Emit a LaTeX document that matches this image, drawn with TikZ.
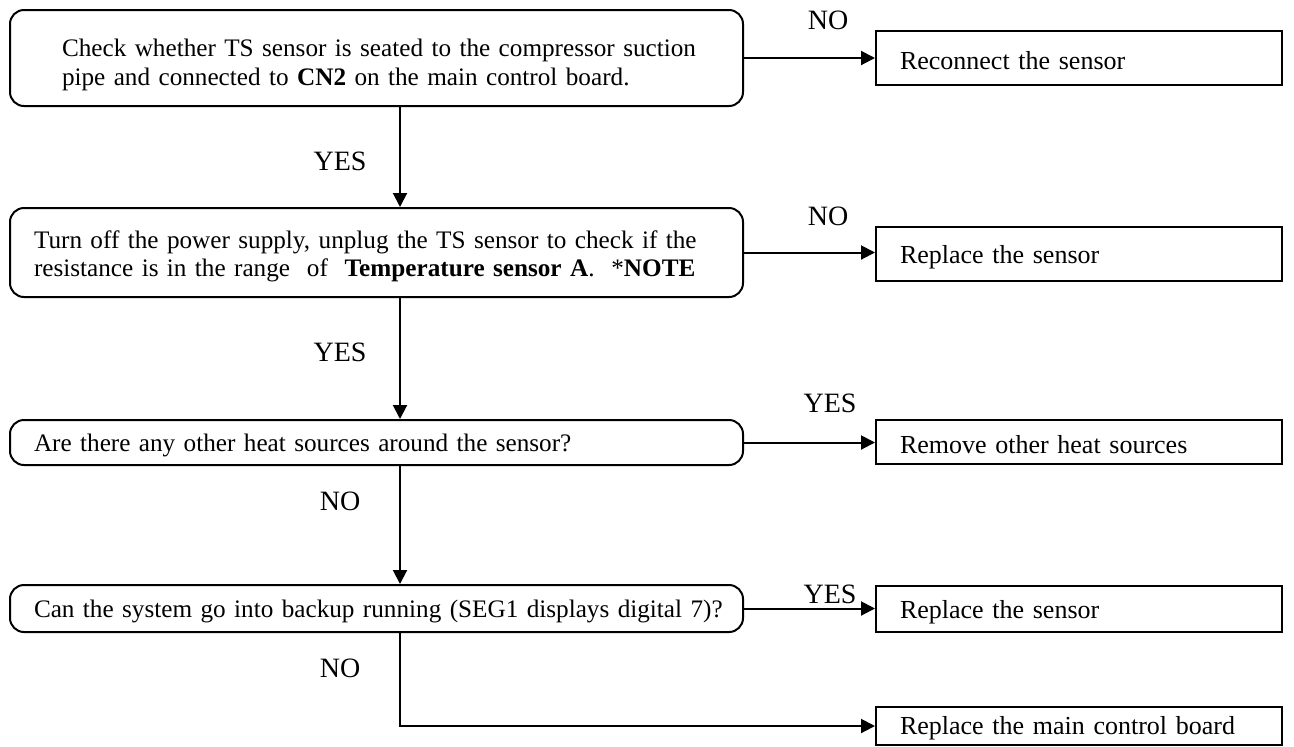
\documentclass[tikz,border=0pt]{standalone}
\usepackage{fontspec}
\setmainfont{Liberation Serif}
\usetikzlibrary{arrows.meta, positioning}

\begin{document}
\begin{tikzpicture}[x=0.5pt, y=-0.5pt, line width=1pt,
    check/.style={draw, rounded corners=7pt, minimum width=366.5pt, text width=342.5pt,
      inner xsep=12pt, inner ysep=2pt, align=left, font=\fontsize{12.6}{14.2}\selectfont},
    fix/.style={draw, minimum width=203pt, text width=179pt, inner xsep=12pt,
      inner ysep=1pt, align=left, font=\fontsize{13}{15}\selectfont},
    drop/.style={execute at begin node={\rule{0pt}{#1}}},
    lbl/.style={font=\fontsize{14}{16}\selectfont},
    arr/.style={-{Triangle[length=7pt, width=7pt]}}]
  \useasboundingbox (0,0) rectangle (1294,746);
  \coordinate (spine) at (400,0);

  % checks on the left
  \node[check, drop=15.5pt, minimum height=48pt, inner xsep=26pt, text width=314.5pt] (chk) at (376.5,58)
    {\mbox{Check whether TS sensor is seated to the compressor suction}\\
     \mbox{pipe and connected to \textbf{CN2} on the main control board.}};
  \node[check, drop=12.5pt, minimum height=44.5pt] (res) at (376.5,252.5)
    {\mbox{Turn off the power supply, unplug the TS sensor to check if the}\\
     \mbox{resistance is in the range\ \ of\ \ \textbf{Temperature sensor A}.\ \ *\textbf{NOTE}}};
  \node[check, drop=12pt, minimum height=22.5pt] (heat) at (376.5,442.5)
    {\mbox{Are there any other heat sources around the sensor?}};
  \node[check, drop=12pt, minimum height=23.5pt] (bkp) at (376.5,608.5)
    {\mbox{Can the system go into backup running (SEG1 displays digital 7)?}};

  % actions on the right
  \node[fix, drop=12pt, minimum height=27pt] (r1) at (1079,58) {Reconnect the sensor};
  \node[fix, drop=12pt, minimum height=27pt] (r2) at (1079,254) {Replace the sensor};
  \node[fix, drop=12pt, minimum height=22pt] (r3) at (1079,442) {Remove other heat sources};
  \node[fix, drop=12pt, minimum height=23pt] (r4) at (1079,609) {Replace the sensor};
  \node[fix, drop=11.5pt, minimum height=19pt] (r5) at (1079,726) {Replace the main control board};

  \draw[arr] (chk.east) -- (chk.east -| r1.west);
  \draw[arr] (res.east) -- (res.east -| r2.west);
  \draw[arr] (heat.east) -- (heat.east -| r3.west);
  \draw[arr] (bkp.east) -- (bkp.east -| r4.west);

  \draw[arr] (chk.south -| spine) -- (res.north -| spine);
  \draw[arr] (res.south -| spine) -- (heat.north -| spine);
  \draw[arr] (heat.south -| spine) -- (bkp.north -| spine);
  \draw[arr] (bkp.south -| spine) |- (r5.west);

  % answers
  \node[lbl] (no1) at (828,20) {NO};
  \node[lbl] (no2) at (828,216) {NO};
  \node[lbl] (yes3) at (830,403) {YES};
  \node[lbl] (yes4) at (830,594) {YES};
  \node[lbl] (yes1) at (340,161) {YES};
  \node[lbl] (yes2) at (340,352) {YES};
  \node[lbl] (no3) at (340,501) {NO};
  \node[lbl] (no4) at (340,668) {NO};
\end{tikzpicture}
\end{document}
